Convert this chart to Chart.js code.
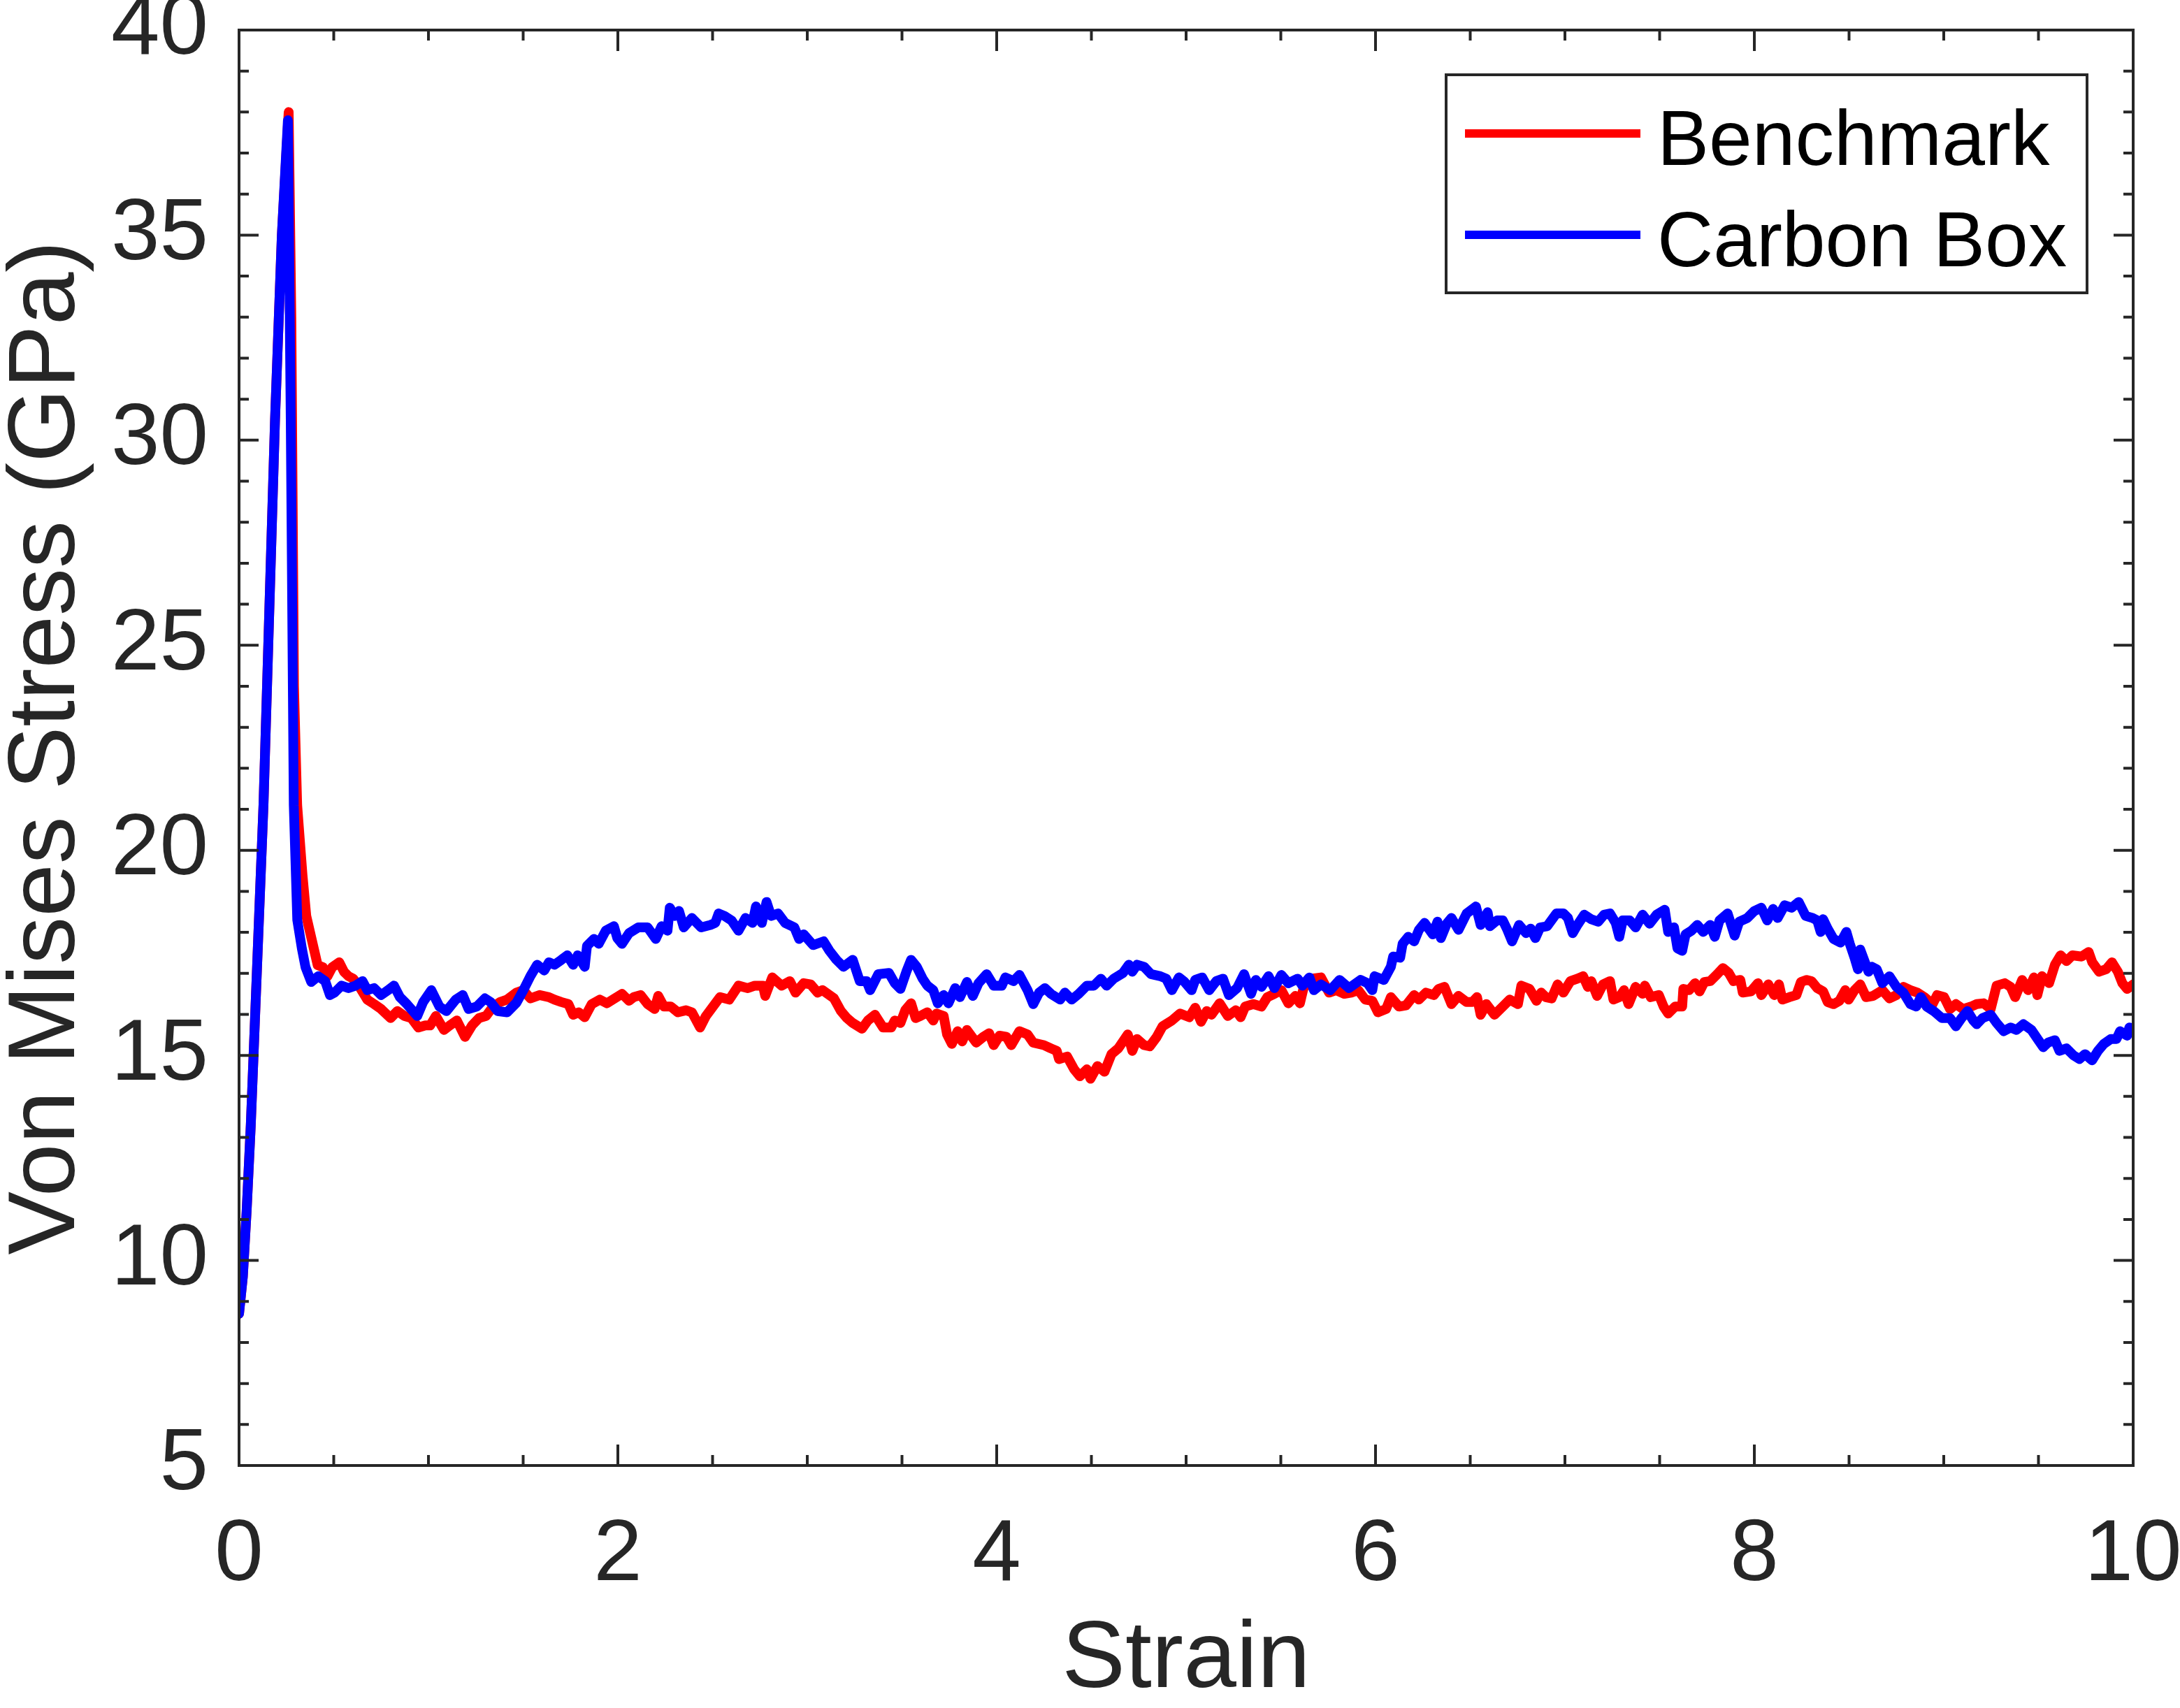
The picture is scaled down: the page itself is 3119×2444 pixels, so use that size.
<!DOCTYPE html>
<html>
<head>
<meta charset="utf-8">
<title>Von Mises Stress vs Strain</title>
<script src="https://cdn.jsdelivr.net/npm/chart.js@4.4.1/dist/chart.umd.min.js"></script>
<style>
  html, body { margin: 0; padding: 0; background: #fff; }
  canvas { display: block; }
</style>
</head>
<body>
<canvas id="myChart" width="3119" height="2444"></canvas>
<script>
// values
const strainBenchmark = [
    0.00, 0.02, 0.04, 0.062, 0.129, 0.19, 0.226, 0.262, 0.276, 0.29, 0.307, 0.335, 0.355, 0.375, 0.395, 0.415,
    0.443, 0.467, 0.492, 0.529, 0.554, 0.578, 0.603, 0.640, 0.677, 0.713, 0.750, 0.800, 0.836, 0.873, 0.910, 0.947,
    0.984, 1.009, 1.039, 1.082, 1.113, 1.150, 1.193, 1.230, 1.267, 1.304, 1.341, 1.378, 1.415, 1.464, 1.501, 1.538,
    1.587, 1.636, 1.665, 1.702, 1.739, 1.764, 1.794, 1.825, 1.862, 1.905, 1.942, 1.973, 2.022, 2.059, 2.084, 2.120,
    2.157, 2.194, 2.213, 2.243, 2.280, 2.317, 2.360, 2.391, 2.434, 2.465, 2.502, 2.539, 2.588, 2.637, 2.686, 2.723,
    2.766, 2.778, 2.815, 2.865, 2.908, 2.938, 2.981, 3.018, 3.055, 3.080, 3.141, 3.178, 3.209, 3.240, 3.289, 3.320,
    3.357, 3.400, 3.443, 3.462, 3.492, 3.517, 3.548, 3.572, 3.597, 3.634, 3.665, 3.683, 3.720, 3.738, 3.763, 3.794,
    3.818, 3.843, 3.892, 3.929, 3.960, 3.984, 4.015, 4.052, 4.077, 4.120, 4.163, 4.193, 4.249, 4.286, 4.317, 4.329,
    4.372, 4.409, 4.439, 4.476, 4.495, 4.532, 4.569, 4.606, 4.642, 4.692, 4.716, 4.741, 4.778, 4.808, 4.845, 4.876,
    4.925, 4.968, 5.017, 5.048, 5.079, 5.109, 5.134, 5.177, 5.220, 5.263, 5.288, 5.312, 5.355, 5.398, 5.429, 5.466,
    5.503, 5.540, 5.577, 5.601, 5.620, 5.663, 5.712, 5.755, 5.792, 5.835, 5.872, 5.909, 5.946, 5.983, 6.013, 6.056,
    6.081, 6.124, 6.161, 6.204, 6.229, 6.266, 6.308, 6.333, 6.364, 6.401, 6.438, 6.481, 6.512, 6.536, 6.555, 6.585,
    6.628, 6.672, 6.709, 6.752, 6.770, 6.813, 6.850, 6.875, 6.899, 6.930, 6.961, 6.992, 7.029, 7.066, 7.096, 7.121,
    7.139, 7.170, 7.201, 7.238, 7.256, 7.287, 7.312, 7.336, 7.373, 7.410, 7.422, 7.453, 7.496, 7.521, 7.545, 7.582,
    7.619, 7.625, 7.656, 7.687, 7.711, 7.736, 7.767, 7.804, 7.834, 7.865, 7.890, 7.926, 7.939, 7.982, 8.019, 8.037,
    8.074, 8.105, 8.130, 8.148, 8.185, 8.222, 8.246, 8.277, 8.302, 8.332, 8.363, 8.387, 8.418, 8.449, 8.480, 8.498,
    8.529, 8.559, 8.590, 8.627, 8.676, 8.713, 8.750, 8.787, 8.824, 8.861, 8.898, 8.941, 8.965, 9.002, 9.033, 9.064,
    9.101, 9.144, 9.174, 9.211, 9.248, 9.279, 9.322, 9.353, 9.377, 9.414, 9.445, 9.476, 9.494, 9.519, 9.556, 9.587,
    9.617, 9.648, 9.679, 9.728, 9.765, 9.784, 9.820, 9.857, 9.888, 9.919, 9.943, 9.968, 10.0
];
const stressBenchmark = [
    8.7, 9.6, 11.2, 13.3, 21.1, 30.5, 35.0, 38.0, 33.0, 24.0, 21.1, 19.4, 18.4, 18.0, 17.6, 17.2,
    17.15, 16.93, 17.15, 17.27, 17.04, 16.93, 16.87, 16.64, 16.36, 16.25, 16.13, 15.91, 16.08, 15.96, 15.91, 15.68,
    15.73, 15.73, 15.96, 15.62, 15.73, 15.85, 15.45, 15.73, 15.91, 15.96, 16.19, 16.30, 16.36, 16.53, 16.59, 16.39,
    16.47, 16.42, 16.36, 16.30, 16.25, 15.99, 16.05, 15.93, 16.25, 16.36, 16.27, 16.36, 16.50, 16.33, 16.42, 16.47,
    16.25, 16.13, 16.45, 16.19, 16.19, 16.05, 16.10, 16.05, 15.68, 15.96, 16.19, 16.42, 16.36, 16.70, 16.64, 16.70,
    16.70, 16.45, 16.90, 16.70, 16.81, 16.53, 16.76, 16.73, 16.53, 16.59, 16.39, 16.08, 15.91, 15.79, 15.65, 15.85,
    15.99, 15.68, 15.68, 15.85, 15.79, 16.10, 16.27, 15.91, 15.96, 16.05, 15.85, 16.02, 15.96, 15.51, 15.28, 15.59,
    15.34, 15.62, 15.31, 15.45, 15.54, 15.25, 15.48, 15.45, 15.25, 15.59, 15.51, 15.31, 15.25, 15.17, 15.11, 14.91,
    14.97, 14.66, 14.49, 14.66, 14.43, 14.74, 14.60, 15.03, 15.17, 15.51, 15.11, 15.40, 15.25, 15.22, 15.45, 15.71,
    15.85, 16.02, 15.93, 16.16, 15.82, 16.08, 15.99, 16.27, 15.96, 16.10, 15.93, 16.19, 16.25, 16.19, 16.42, 16.50,
    16.59, 16.27, 16.45, 16.27, 16.64, 16.87, 16.90, 16.53, 16.59, 16.50, 16.53, 16.59, 16.36, 16.33, 16.05, 16.13,
    16.42, 16.19, 16.22, 16.47, 16.36, 16.53, 16.47, 16.62, 16.67, 16.25, 16.45, 16.30, 16.30, 16.42, 15.99, 16.25,
    15.99, 16.19, 16.36, 16.25, 16.70, 16.62, 16.33, 16.53, 16.42, 16.39, 16.73, 16.53, 16.81, 16.87, 16.93, 16.67,
    16.81, 16.45, 16.73, 16.81, 16.36, 16.42, 16.59, 16.25, 16.67, 16.50, 16.70, 16.42, 16.47, 16.19, 16.02, 16.19,
    16.19, 16.62, 16.59, 16.76, 16.56, 16.79, 16.81, 16.98, 17.13, 17.01, 16.81, 16.84, 16.53, 16.56, 16.76, 16.47,
    16.73, 16.47, 16.73, 16.36, 16.42, 16.47, 16.79, 16.84, 16.81, 16.64, 16.56, 16.30, 16.25, 16.33, 16.59, 16.36,
    16.59, 16.73, 16.42, 16.45, 16.59, 16.39, 16.47, 16.67, 16.59, 16.53, 16.42, 16.25, 16.47, 16.42, 16.13, 16.25,
    16.13, 16.19, 16.25, 16.27, 16.13, 16.70, 16.76, 16.67, 16.42, 16.84, 16.59, 16.90, 16.47, 16.93, 16.76, 17.21,
    17.44, 17.30, 17.44, 17.41, 17.52, 17.27, 17.04, 17.10, 17.27, 17.04, 16.76, 16.62, 16.73
];

const strainCarbon = [
    0.00, 0.02, 0.04, 0.062, 0.129, 0.19, 0.226, 0.258, 0.273, 0.289, 0.3075, 0.332, 0.351, 0.381, 0.418, 0.455,
    0.480, 0.504, 0.541, 0.578, 0.615, 0.652, 0.677, 0.713, 0.750, 0.787, 0.818, 0.849, 0.886, 0.941, 0.972, 1.015,
    1.058, 1.095, 1.144, 1.181, 1.212, 1.255, 1.298, 1.328, 1.365, 1.415, 1.464, 1.501, 1.538, 1.574, 1.611, 1.636,
    1.665, 1.702, 1.733, 1.764, 1.788, 1.825, 1.837, 1.874, 1.899, 1.936, 1.979, 1.997, 2.022, 2.059, 2.108, 2.157,
    2.200, 2.231, 2.262, 2.274, 2.299, 2.323, 2.348, 2.391, 2.440, 2.489, 2.514, 2.532, 2.563, 2.600, 2.637, 2.674,
    2.711, 2.729, 2.760, 2.785, 2.809, 2.846, 2.883, 2.932, 2.957, 2.981, 3.031, 3.086, 3.117, 3.154, 3.191, 3.240,
    3.277, 3.313, 3.332, 3.375, 3.431, 3.462, 3.492, 3.523, 3.548, 3.578, 3.609, 3.634, 3.665, 3.689, 3.720, 3.745,
    3.781, 3.806, 3.843, 3.874, 3.904, 3.947, 3.984, 4.027, 4.046, 4.089, 4.120, 4.163, 4.193, 4.224, 4.255, 4.286,
    4.335, 4.360, 4.396, 4.433, 4.476, 4.513, 4.550, 4.581, 4.618, 4.667, 4.698, 4.716, 4.741, 4.778, 4.815, 4.864,
    4.895, 4.925, 4.962, 4.990, 5.029, 5.048, 5.085, 5.122, 5.159, 5.195, 5.226, 5.269, 5.306, 5.343, 5.368, 5.398,
    5.435, 5.466, 5.503, 5.540, 5.589, 5.614, 5.651, 5.675, 5.712, 5.761, 5.810, 5.860, 5.921, 5.958, 5.983, 5.995,
    6.044, 6.081, 6.093, 6.130, 6.143, 6.173, 6.204, 6.229, 6.259, 6.302, 6.327, 6.345, 6.376, 6.401, 6.438, 6.481,
    6.530, 6.555, 6.592, 6.604, 6.641, 6.672, 6.696, 6.721, 6.758, 6.795, 6.819, 6.844, 6.869, 6.906, 6.955, 6.992,
    7.016, 7.041, 7.066, 7.102, 7.139, 7.176, 7.207, 7.238, 7.268, 7.287, 7.305, 7.342, 7.373, 7.410, 7.447, 7.484,
    7.527, 7.545, 7.576, 7.594, 7.619, 7.637, 7.668, 7.699, 7.730, 7.767, 7.791, 7.816, 7.859, 7.896, 7.920, 7.963,
    8.000, 8.037, 8.068, 8.099, 8.123, 8.160, 8.197, 8.234, 8.271, 8.307, 8.332, 8.350, 8.363, 8.387, 8.418, 8.455,
    8.486, 8.504, 8.529, 8.547, 8.559, 8.584, 8.603, 8.621, 8.646, 8.676, 8.713, 8.750, 8.787, 8.824, 8.855, 8.879,
    8.910, 8.947, 8.990, 9.033, 9.064, 9.094, 9.125, 9.156, 9.174, 9.205, 9.248, 9.279, 9.316, 9.353, 9.384, 9.420,
    9.463, 9.500, 9.525, 9.550, 9.587, 9.611, 9.648, 9.685, 9.716, 9.746, 9.783, 9.814, 9.845, 9.882, 9.912, 9.931,
    9.968, 9.980, 10.0
];
const stressCarbon = [
    8.7, 9.6, 11.2, 13.3, 21.1, 30.5, 35.0, 37.8, 30.5, 21.1, 18.3, 17.6, 17.15, 16.79, 16.93, 16.81,
    16.47, 16.53, 16.70, 16.64, 16.70, 16.81, 16.59, 16.64, 16.47, 16.59, 16.70, 16.42, 16.25, 15.96, 16.30, 16.59,
    16.19, 16.08, 16.36, 16.47, 16.13, 16.19, 16.39, 16.30, 16.08, 16.05, 16.28, 16.59, 16.93, 17.21, 17.07, 17.27,
    17.21, 17.33, 17.44, 17.21, 17.44, 17.16, 17.67, 17.84, 17.72, 18.04, 18.15, 17.86, 17.72, 17.98, 18.12, 18.12,
    17.84, 18.15, 18.04, 18.60, 18.40, 18.52, 18.12, 18.35, 18.12, 18.18, 18.23, 18.46, 18.40, 18.29, 18.04, 18.35,
    18.23, 18.63, 18.23, 18.74, 18.40, 18.46, 18.23, 18.12, 17.84, 17.95, 17.69, 17.78, 17.55, 17.33, 17.16, 17.33,
    16.81, 16.81, 16.59, 16.98, 17.01, 16.76, 16.62, 17.04, 17.33, 17.16, 16.87, 16.70, 16.59, 16.27, 16.47, 16.27,
    16.64, 16.42, 16.79, 16.45, 16.76, 16.98, 16.70, 16.70, 16.90, 16.81, 16.96, 16.59, 16.25, 16.53, 16.64, 16.50,
    16.36, 16.53, 16.36, 16.50, 16.70, 16.70, 16.87, 16.70, 16.87, 17.01, 17.21, 17.04, 17.21, 17.16, 16.98, 16.93,
    16.87, 16.59, 16.90, 16.80, 16.59, 16.84, 16.90, 16.59, 16.81, 16.87, 16.47, 16.64, 16.98, 16.50, 16.84, 16.67,
    16.93, 16.64, 16.96, 16.76, 16.87, 16.70, 16.90, 16.59, 16.73, 16.59, 16.84, 16.64, 16.84, 16.76, 16.59, 16.93,
    16.84, 17.16, 17.41, 17.38, 17.72, 17.89, 17.78, 18.06, 18.23, 17.95, 18.26, 17.86, 18.21, 18.35, 18.06, 18.46,
    18.63, 18.18, 18.49, 18.15, 18.29, 18.29, 18.06, 17.78, 18.18, 17.98, 18.09, 17.86, 18.12, 18.15, 18.46, 18.46,
    18.35, 17.98, 18.18, 18.43, 18.32, 18.26, 18.43, 18.46, 18.23, 17.89, 18.29, 18.29, 18.12, 18.43, 18.21, 18.43,
    18.55, 18.01, 18.12, 17.61, 17.55, 17.95, 18.04, 18.18, 18.01, 18.18, 17.89, 18.29, 18.46, 17.92, 18.26, 18.35,
    18.52, 18.60, 18.29, 18.57, 18.35, 18.66, 18.60, 18.74, 18.40, 18.35, 18.29, 18.01, 18.32, 18.09, 17.84, 17.75,
    18.01, 17.72, 17.38, 17.10, 17.58, 17.27, 17.04, 17.16, 17.10, 16.76, 16.93, 16.67, 16.53, 16.25, 16.19, 16.42,
    16.19, 16.08, 15.91, 15.91, 15.71, 15.91, 16.08, 15.85, 15.76, 15.91, 15.99, 15.79, 15.59, 15.68, 15.62, 15.76,
    15.62, 15.37, 15.20, 15.31, 15.37, 15.11, 15.17, 15.00, 14.91, 15.03, 14.88, 15.11, 15.28, 15.40, 15.40, 15.59,
    15.48, 15.68, 15.65
];

const xTicks = [0, 2, 4, 6, 8, 10];
const yTicks = [5, 10, 15, 20, 25, 30, 35, 40];

const axisColor = '#262626';
const fontFamily = "'Liberation Sans', Arial, Helvetica, sans-serif";

function toPoints(xs, ys) {
    return xs.map((x, i) => ({ x: x, y: ys[i] }));
}

// box around the plot with inward major and minor ticks, like matlab
const axesBox = {
    id: 'axesBox',
    afterDatasetsDraw(chart) {
        const ctx = chart.ctx;
        const a = chart.chartArea;
        const xs = chart.scales.x;
        const ys = chart.scales.y;
        ctx.save();
        ctx.strokeStyle = axisColor;
        ctx.lineWidth = 4;
        ctx.lineCap = 'butt';
        ctx.beginPath();
        for (let v = xs.min; v <= xs.max + 1e-9; v += 0.5) {
            const px = xs.getPixelForValue(v);
            const len = Math.abs(v / 2 - Math.round(v / 2)) < 1e-9 ? 30 : 15;
            ctx.moveTo(px, a.bottom); ctx.lineTo(px, a.bottom - len);
            ctx.moveTo(px, a.top); ctx.lineTo(px, a.top + len);
        }
        for (let v = ys.min; v <= ys.max + 1e-9; v += 1) {
            const py = ys.getPixelForValue(v);
            const len = v % 5 === 0 ? 28 : 14;
            ctx.moveTo(a.left, py); ctx.lineTo(a.left + len, py);
            ctx.moveTo(a.right, py); ctx.lineTo(a.right - len, py);
        }
        ctx.stroke();
        ctx.strokeRect(a.left, a.top, a.right - a.left, a.bottom - a.top);
        ctx.restore();
    }
};

// legend box in the upper right corner of the plot
const boxLegend = {
    id: 'boxLegend',
    afterDraw(chart) {
        const ctx = chart.ctx;
        const a = chart.chartArea;
        const w = 917, h = 312;
        const left = a.right - 66 - w;
        const top = a.top + 64;
        ctx.save();
        ctx.fillStyle = '#ffffff';
        ctx.fillRect(left, top, w, h);
        ctx.strokeStyle = axisColor;
        ctx.lineWidth = 4;
        ctx.strokeRect(left, top, w, h);
        ctx.font = '111px ' + fontFamily;
        ctx.textAlign = 'left';
        ctx.textBaseline = 'alphabetic';
        const rows = [84, 229];
        chart.data.datasets.forEach((ds, i) => {
            const y = top + rows[i];
            ctx.strokeStyle = ds.borderColor;
            ctx.lineWidth = 12;
            ctx.beginPath();
            ctx.moveTo(left + 27, y);
            ctx.lineTo(left + 278, y);
            ctx.stroke();
            ctx.fillStyle = '#000000';
            ctx.fillText(ds.label, left + 302, y + 45);
        });
        ctx.restore();
    }
};

function setupStressChart() {
    let ctx = document.getElementById('myChart').getContext('2d');

    new Chart(ctx, {
        type: 'line',
        data: {
            datasets: [{
                label: 'Benchmark',
                data: toPoints(strainBenchmark, stressBenchmark),
                borderColor: '#ff0000',
                borderWidth: 14,
                order: 1
            }, {
                label: 'Carbon Box',
                data: toPoints(strainCarbon, stressCarbon),
                borderColor: '#0000ff',
                borderWidth: 14,
                order: 0
            }]
        },
        options: {
            responsive: false,
            animation: false,
            devicePixelRatio: 1,
            parsing: false,
            elements: {
                point: { radius: 0 },
                line: { tension: 0, borderJoinStyle: 'round', borderCapStyle: 'round' }
            },
            layout: { padding: { top: 43, right: 67, left: 0, bottom: 0 } },
            plugins: {
                legend: { display: false },
                tooltip: { enabled: false }
            },
            scales: {
                x: {
                    type: 'linear',
                    min: 0,
                    max: 10,
                    grid: { display: false, drawTicks: false },
                    border: { display: false },
                    afterBuildTicks: scale => { scale.ticks = xTicks.map(v => ({ value: v })); },
                    afterFit: scale => {
                        scale.height = 347;
                        scale.paddingLeft = 0;
                        scale.paddingRight = 0;
                    },
                    ticks: {
                        color: axisColor,
                        padding: 55,
                        maxRotation: 0,
                        autoSkip: false,
                        font: { family: fontFamily, size: 125 }
                    },
                    title: {
                        display: true,
                        text: 'Strain',
                        color: axisColor,
                        padding: { top: 0, bottom: 0 },
                        font: { family: fontFamily, size: 136, lineHeight: 1 }
                    }
                },
                y: {
                    type: 'linear',
                    min: 5,
                    max: 40,
                    grid: { display: false, drawTicks: false },
                    border: { display: false },
                    afterBuildTicks: scale => { scale.ticks = yTicks.map(v => ({ value: v })); },
                    afterFit: scale => {
                        scale.width = 342;
                        scale.paddingTop = 0;
                        scale.paddingBottom = 0;
                    },
                    ticks: {
                        color: axisColor,
                        padding: 44,
                        autoSkip: false,
                        font: { family: fontFamily, size: 125 }
                    },
                    title: {
                        display: true,
                        text: 'Von Mises Stress (GPa)',
                        color: axisColor,
                        padding: 0,
                        font: { family: fontFamily, size: 136, lineHeight: 1 }
                    }
                }
            }
        },
        plugins: [axesBox, boxLegend]
    });
}

document.addEventListener('DOMContentLoaded', function() {
    setupStressChart();
});
</script>
</body>
</html>
